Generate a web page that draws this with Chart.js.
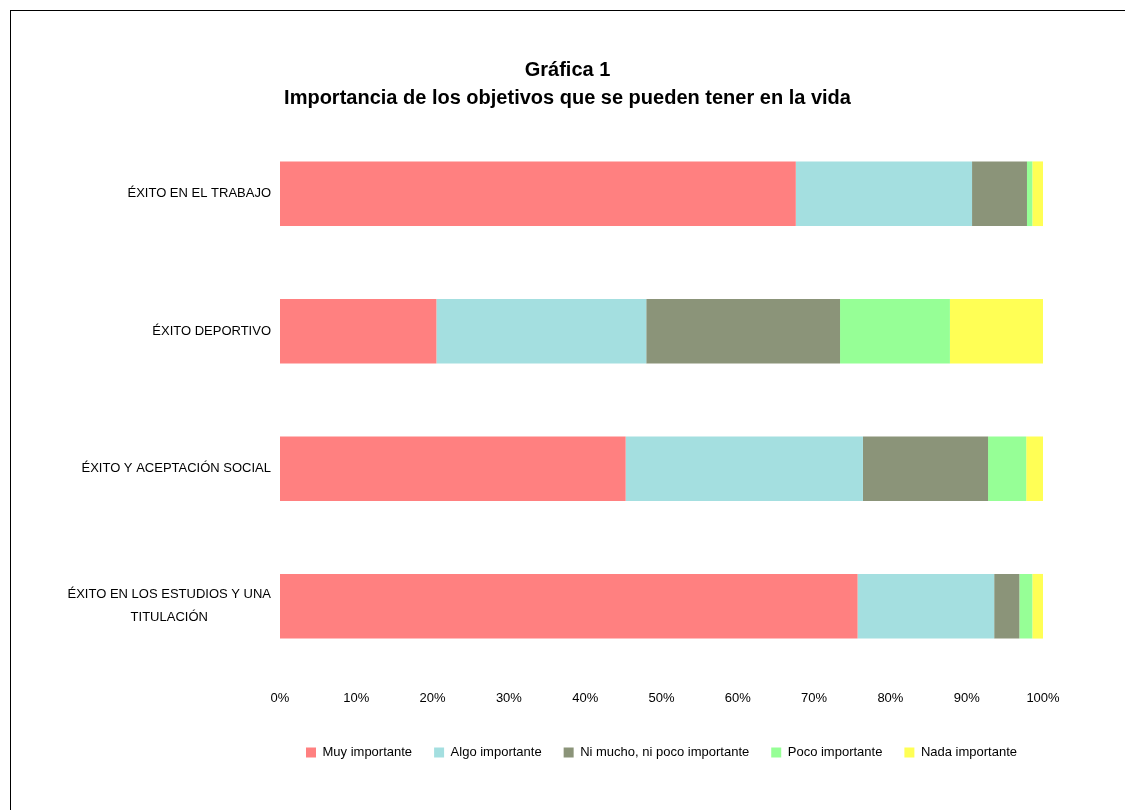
<!DOCTYPE html>
<html>
<head>
<meta charset="utf-8">
<script src="https://cdn.jsdelivr.net/npm/chart.js@4/dist/chart.umd.min.js"></script>
<style>
  html, body { margin: 0; padding: 0; background: #fff; overflow: hidden; }
  #wrap { position: relative; width: 1125px; height: 810px; }
  #frame { position: absolute; left: 10px; top: 10px; width: 1200px; height: 900px; border: 1px solid #000; pointer-events: none; }
</style>
</head>
<body>
<div id="wrap">
  <canvas id="chart" width="1125" height="810"></canvas>
  <div id="frame"></div>
</div>
<script>
// Datos (porcentaje de respuestas)
const categorias = [
  "ÉXITO EN EL TRABAJO",
  "ÉXITO DEPORTIVO",
  "ÉXITO Y ACEPTACIÓN SOCIAL",
  ["ÉXITO EN LOS ESTUDIOS Y UNA", "TITULACIÓN"]
];
const muyImportante  = [67.6, 20.5, 45.3, 75.7];
const algoImportante = [23.1, 27.5, 31.1, 17.9];
const niMuchoNiPoco  = [7.2, 25.4, 16.4, 3.3];
const pocoImportante = [0.7, 14.4, 5.0, 1.7];
const nadaImportante = [1.4, 12.2, 2.2, 1.4];

const FONT = "'Liberation Sans', Arial, sans-serif";

// Etiquetas de categoría (centradas entre sí, alineadas a la derecha)
const etiquetasPlugin = {
  id: "etiquetas",
  afterDraw(chart) {
    const ctx = chart.ctx;
    const y = chart.scales.y;
    const right = chart.chartArea.left - 9;
    ctx.save();
    ctx.font = "13px " + FONT;
    ctx.fillStyle = "#000";
    ctx.textAlign = "center";
    ctx.textBaseline = "middle";
    categorias.forEach((c, i) => {
      const lines = Array.isArray(c) ? c : [c];
      const w = Math.max(...lines.map(l => ctx.measureText(l).width));
      const cx = right - w / 2;
      const lh = 23;
      const py = y.getPixelForValue(i);
      lines.forEach((l, k) => {
        ctx.fillText(l, cx, py + (k - (lines.length - 1) / 2) * lh);
      });
    });
    ctx.restore();
  }
};

const ctx = document.getElementById("chart").getContext("2d");

new Chart(ctx, {
  type: "bar",
  data: {
    labels: categorias,
    datasets: [
      { label: "Muy importante", data: muyImportante, backgroundColor: "#FF8080" },
      { label: "Algo importante", data: algoImportante, backgroundColor: "#A4DFE0" },
      { label: "Ni mucho, ni poco importante", data: niMuchoNiPoco, backgroundColor: "#8B9479" },
      { label: "Poco importante", data: pocoImportante, backgroundColor: "#96FF96" },
      { label: "Nada importante", data: nadaImportante, backgroundColor: "#FFFF55" }
    ]
  },
  options: {
    indexAxis: "y",
    responsive: false,
    animation: false,
    datasets: { bar: { categoryPercentage: 0.47, barPercentage: 1 } },
    layout: { padding: { left: 10, right: 0, top: 0, bottom: 41 } },
    plugins: {
      title: {
        display: true,
        text: ["Gráfica 1", "Importancia de los objetivos que se pueden tener en la vida"],
        color: "#000",
        font: { family: FONT, size: 20, weight: "bold", lineHeight: 1.4 },
        padding: { top: 56, bottom: 13 }
      },
      legend: {
        position: "bottom",
        fullSize: false,
        labels: {
          color: "#000",
          font: { family: FONT, size: 13 },
          boxWidth: 10,
          boxHeight: 10,
          padding: 22
        }
      },
      tooltip: { enabled: false }
    },
    scales: {
      x: {
        stacked: true,
        min: 0,
        max: 100,
        ticks: {
          stepSize: 10,
          color: "#000",
          font: { family: FONT, size: 13 },
          padding: 16,
          callback: v => v + "%"
        },
        grid: { display: false, drawTicks: false },
        border: { display: false },
        afterFit: s => { s.height = 49; }
      },
      y: {
        stacked: true,
        ticks: { display: false },
        grid: { display: false },
        border: { display: false },
        afterFit: s => { s.width = 270; }
      },
      derecha: {
        type: "linear",
        axis: "y",
        position: "right",
        ticks: { display: false },
        grid: { display: false },
        border: { display: false },
        afterFit: s => { s.width = 82; }
      }
    }
  },
  plugins: [etiquetasPlugin]
});
</script>
</body>
</html>
